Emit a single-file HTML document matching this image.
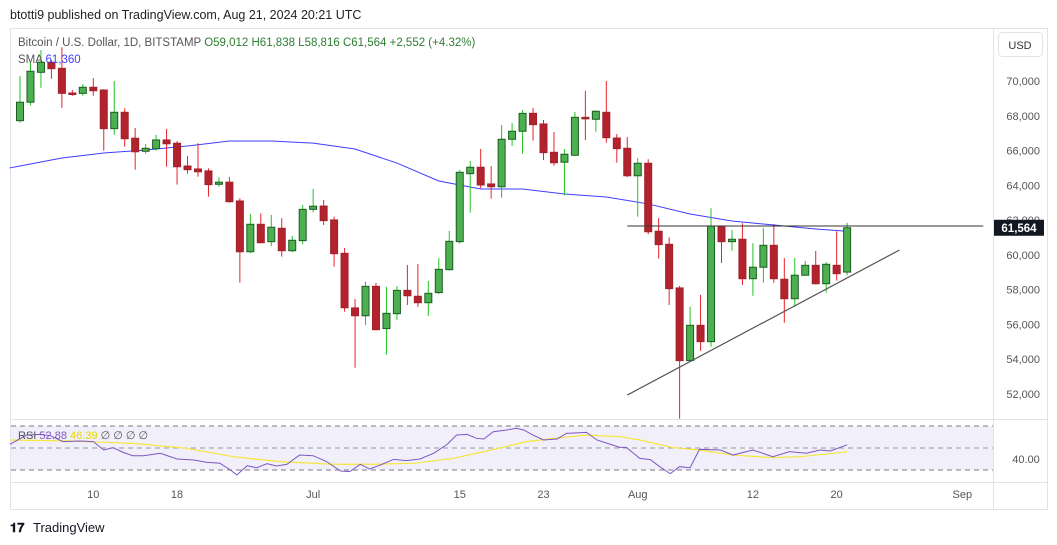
<!DOCTYPE html>
<html><head><meta charset="utf-8">
<style>
body{margin:0;background:#fff;width:1057px;height:545px;overflow:hidden;font-family:"Liberation Sans",sans-serif;}
svg{position:absolute;left:0;top:0;}
</style></head>
<body>
<svg id="chart" width="1057" height="545" viewBox="0 0 1057 545">
<text x="10" y="19" font-size="12.5" fill="#222">btotti9 published on TradingView.com, Aug 21, 2024 20:21 UTC</text>
<rect x="10.5" y="28.5" width="1037" height="481" fill="none" stroke="#e0e3eb"/>
<line x1="993.5" y1="28" x2="993.5" y2="510" stroke="#e0e3eb"/>
<line x1="10" y1="419.5" x2="1048" y2="419.5" stroke="#e0e3eb"/>
<line x1="10" y1="482.5" x2="1048" y2="482.5" stroke="#e0e3eb"/>
<rect x="11" y="426" width="982" height="44" fill="#f1effa"/>
<line x1="11" y1="426" x2="993" y2="426" stroke="#787b86" stroke-dasharray="5,4"/>
<line x1="11" y1="448" x2="993" y2="448" stroke="#9598a1" stroke-dasharray="5,4"/>
<line x1="11" y1="470" x2="993" y2="470" stroke="#787b86" stroke-dasharray="5,4"/>
<g id="marks"></g>
<text x="18" y="46" font-size="11.5" fill="#555">Bitcoin / U.S. Dollar, 1D, BITSTAMP <tspan fill="#2e7d32">O59,012 H61,838 L58,816 C61,564 +2,552 (+4.32%)</tspan></text>
<text x="18" y="63" font-size="11.5" fill="#555">SMA <tspan fill="#3f3fff">61,360</tspan></text>
<text x="18" y="439" font-size="11" fill="#555">RSI <tspan fill="#7e57c2">52.88</tspan> <tspan fill="#e8d500">46.39</tspan> ∅ ∅ ∅ ∅</text>
<rect x="998.5" y="32.5" width="44" height="24" rx="4" fill="#fff" stroke="#e0e3eb"/>
<text x="1020" y="49" font-size="11" fill="#333" text-anchor="middle">USD</text>
<text x="1026" y="463" font-size="11" fill="#555" text-anchor="middle">40.00</text>
<text x="10" y="532" font-size="13" font-weight="bold" fill="#131722">𝟏𝟕</text>
<text x="33" y="532" font-size="13" fill="#131722">TradingView</text>
</svg>
<script>
const opens=[67.72,68.78,70.50,71.08,70.73,69.31,69.29,69.64,69.48,67.26,68.20,66.71,65.96,66.11,66.61,66.42,65.11,64.94,64.83,64.06,64.18,63.10,60.18,61.76,60.76,61.53,60.24,60.82,62.62,62.81,62.01,60.09,56.95,56.50,58.19,55.76,56.62,57.96,57.62,57.25,57.83,59.15,60.76,64.67,65.04,64.08,63.92,66.65,67.11,68.14,67.53,65.90,65.33,65.73,67.91,67.80,68.20,66.72,66.13,64.55,65.27,61.36,60.61,58.10,53.92,55.95,55.01,61.66,60.76,60.90,58.63,59.29,60.55,58.60,57.48,58.83,59.40,58.34,59.40,59.01];
const highs=[70.29,71.09,71.78,71.21,71.94,69.48,69.83,70.17,69.54,70.00,68.43,67.30,66.38,66.90,67.24,66.55,65.69,66.42,64.98,64.46,64.48,63.26,62.35,62.39,62.30,62.11,61.09,62.87,63.79,63.16,62.20,60.40,57.46,58.46,58.39,58.16,58.21,59.42,59.48,58.50,59.82,61.38,64.88,65.40,66.09,65.11,67.47,67.57,68.33,68.45,67.76,67.07,66.09,68.22,69.44,68.30,70.00,66.95,66.78,65.57,65.50,62.12,61.01,58.21,57.01,57.70,62.68,61.70,61.43,61.82,60.67,61.55,61.78,59.82,59.82,59.65,60.23,59.59,61.36,61.84];
const lows=[67.60,68.60,69.61,70.13,68.46,69.15,69.15,69.15,65.99,66.91,66.22,64.90,65.82,65.99,65.07,64.04,64.67,64.50,63.35,63.92,63.00,58.40,60.10,60.67,60.51,59.90,60.15,60.61,62.45,61.72,59.32,56.73,53.51,55.97,55.65,54.25,56.26,57.12,57.01,56.49,57.75,59.10,60.64,62.43,63.83,63.23,63.29,66.26,65.82,66.57,65.46,65.13,63.43,65.70,66.61,67.08,66.45,65.30,64.48,62.20,61.19,59.78,57.12,50.58,53.85,54.48,54.72,59.54,60.24,58.27,57.65,58.40,58.40,56.10,57.02,58.80,58.30,57.83,58.52,58.82];
const closes=[68.78,70.56,71.08,70.71,69.29,69.27,69.64,69.44,67.26,68.20,66.68,65.93,66.13,66.61,66.39,65.07,64.90,64.78,64.04,64.18,63.06,60.18,61.76,60.70,61.59,60.24,60.84,62.62,62.80,61.97,60.07,56.96,56.50,58.19,55.70,56.64,57.96,57.65,57.25,57.79,59.17,60.78,64.75,65.04,64.02,63.92,66.65,67.11,68.14,67.49,65.88,65.30,65.79,67.91,67.83,68.26,66.74,66.11,64.55,65.27,61.33,60.59,58.06,53.92,55.95,55.01,61.66,60.76,60.90,58.63,59.29,60.55,58.63,57.48,58.83,59.40,58.34,59.46,58.92,61.56];
const smaDays=[-1,0,4,8,12,16,20,24,28,32,36,40,44,48,52,56,60,64,68,72,76,79];
const smaVals=[65.00,65.11,65.57,65.86,66.03,66.26,66.55,66.55,66.43,66.09,65.28,64.25,63.79,63.79,63.50,63.33,62.93,62.35,61.95,61.72,61.49,61.36];
const rsiDays=[-0.96,0.64,1.9,2.9,4.1,5.7,7.0,8.0,8.9,9.9,10.8,11.8,13.4,15.0,16.6,17.8,19.1,20.1,20.7,21.7,22.6,23.6,24.5,25.5,26.7,28.0,29.3,30.6,31.5,32.5,33.4,34.4,35.7,36.9,38.2,39.5,40.8,41.7,42.7,43.6,44.3,45.2,46.5,47.4,48.1,49.0,50.0,51.3,52.2,54.1,55.1,56.4,57.3,57.9,59.2,60.2,61.1,62.1,63.0,64.0,64.9,66.9,68.1,70.0,71.9,73.5,75.1,76.4,77.4,79];
const rsiVals=[53.3,61.8,62.4,61.2,55.8,56.4,55.8,48.2,50.3,45.8,43.0,43.0,45.2,40.0,39.1,37.0,36.1,30.0,25.5,33.9,32.1,35.8,33.6,35.2,43.6,43.0,37.6,29.1,28.5,35.2,30.9,34.5,39.7,38.5,40.0,45.2,53.3,61.8,62.4,58.8,58.2,64.8,66.4,67.9,66.4,61.8,57.3,58.2,63.3,64.2,57.3,53.3,50.6,50.6,40.6,39.4,33.0,26.7,33.0,32.1,48.8,48.2,43.6,48.2,42.1,46.7,45.2,48.2,47.3,52.9];
const rsiMaDays=[-0.96,4.5,10.8,15.9,20.4,24.8,29.9,33.7,37.6,41.4,44.6,48.4,51.6,54.1,57.3,59.2,62.4,64.9,68.1,71.9,74.5,79];
const rsiMaVals=[57.3,56.4,54.2,49.7,42.1,37.6,35.2,35.2,36.1,40.6,47.3,55.8,59.4,61.8,60.3,57.3,50.3,48.2,43.6,41.2,42.1,46.4];
const priceTicks=[70,68,66,64,62,60,58,56,54,52];
const timeLabels=["10","18","Jul","15","23","Aug","12","20","Sep"];
const timeDays=[7,15,28,42,50,59,70,78,90];
const resistance=61.66, resDays=[58,92];
const trendDays=[58,84], trendVals=[51.94,60.28];

const X=i=>20+i*10.47;
const Y=p=>81+(70-p)*17.389;
const RY=v=>426+(70-v)*1.1;
const NS="http://www.w3.org/2000/svg";
const svg=document.getElementById('chart');
const g=document.getElementById('marks');
function mk(tag,attrs,parent){const e=document.createElementNS(NS,tag);for(const k in attrs)e.setAttribute(k,attrs[k]);(parent||g).appendChild(e);return e;}
// price ticks
priceTicks.forEach(t=>{const e=mk('text',{x:1040,y:Y(t)+4,'font-size':11,fill:'#555','text-anchor':'end'});e.textContent=t.toString()+',000';

});
timeLabels.forEach((t,k)=>{const e=mk('text',{x:X(timeDays[k]),y:498,'font-size':11,fill:'#555','text-anchor':'middle'});e.textContent=t;

});
// SMA
const sp=mk('polyline',{points:smaDays.map((d,k)=>X(d)+','+Y(smaVals[k])).join(' '),fill:'none',stroke:'#3d3dff','stroke-width':1});


// candles
opens.forEach((o,i)=>{const c=closes[i],up=c>=o,x=X(i);
const w=mk('line',{x1:x,x2:x,y1:Y(highs[i]),y2:Y(lows[i]),stroke:up?'#22c322':'#e8222a','stroke-width':1});


const top=Y(Math.max(o,c)),h=Math.max(1.5,Math.abs(Y(o)-Y(c)));
const b=mk('rect',{x:x-3.5,y:top,width:7,height:h,fill:up?'#4caf50':'#b2232d',stroke:up?'#1b5e20':'#a3202a','stroke-width':1});

});
// drawings
const rl=mk('line',{x1:X(resDays[0]),x2:X(resDays[1]),y1:Y(resistance),y2:Y(resistance),stroke:'#333','stroke-width':1});


const tl=mk('line',{x1:X(trendDays[0]),x2:X(trendDays[1]),y1:Y(trendVals[0]),y2:Y(trendVals[1]),stroke:'#555','stroke-width':1.2});


// RSI
const rm=mk('polyline',{points:rsiMaDays.map((d,k)=>X(d)+','+RY(rsiMaVals[k])).join(' '),fill:'none',stroke:'#f5e63a','stroke-width':1.2});


const rp=mk('polyline',{points:rsiDays.map((d,k)=>X(d)+','+RY(rsiVals[k])).join(' '),fill:'none',stroke:'#7e57c2','stroke-width':1});


// last price label
const lp=closes[closes.length-1];
const lb=mk('rect',{x:994,y:Y(lp)-8,width:50,height:16,fill:'#131722'},svg);


const lt=mk('text',{x:1019,y:Y(lp)+4,'font-size':11.5,'font-weight':'bold',fill:'#fff','text-anchor':'middle'},svg);
lt.textContent='61,564';


</script>
</body></html>
